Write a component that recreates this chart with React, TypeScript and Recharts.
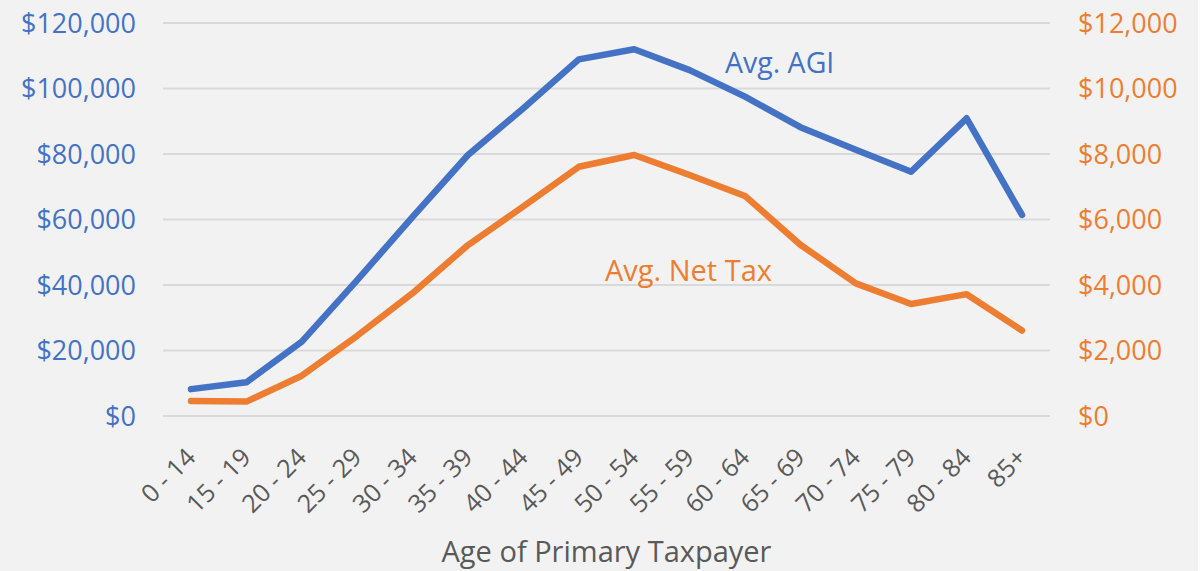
import { LineChart, Line, XAxis, YAxis, CartesianGrid } from 'recharts'

const ageGroups = ['0 - 14', '15 - 19', '20 - 24', '25 - 29', '30 - 34', '35 - 39', '40 - 44', '45 - 49', '50 - 54', '55 - 59', '60 - 64', '65 - 69', '70 - 74', '75 - 79', '80 - 84', '85+']
const avgAgi = [8200, 10300, 22700, 41500, 60800, 79700, 94000, 108900, 112000, 105600, 97500, 88200, 81300, 74600, 90900, 61400]
const avgNetTax = [460, 440, 1230, 2450, 3750, 5220, 6400, 7610, 7970, 7360, 6720, 5230, 4050, 3420, 3720, 2610]
const agiTicks = [0, 20000, 40000, 60000, 80000, 100000, 120000]
const taxTicks = [0, 2000, 4000, 6000, 8000, 10000, 12000]

const data = ageGroups.map((age, i) => ({ age, agi: avgAgi[i], tax: avgNetTax[i] }))

const BLUE = '#4472c4'
const ORANGE = '#ed7d31'
const GREY = '#595959'
const FONT = '"Open Sans", sans-serif'

const money = (v: number) => `$${v.toLocaleString('en-US')}`

function AgeTick({ x, y, payload }: any) {
    return (
        <g transform={`translate(${x + 6},${y + 43})`}>
            <text transform="rotate(-45)" textAnchor="end" fill={GREY} fontSize={25} fontFamily={FONT}>
                {payload.value}
            </text>
        </g>
    )
}

export default function App() {
    return (
        <div style={{ position: 'absolute', left: 0, top: 0, width: 1198, height: 571, background: '#f2f2f2' }}>
            <LineChart width={1198} height={571} data={data} margin={{ top: 23, right: 0, bottom: 0, left: 0 }}>
                <CartesianGrid yAxisId="agi" vertical={false} stroke="#d9d9d9" strokeWidth={2} />
                <XAxis
                    dataKey="age"
                    interval={0}
                    height={155}
                    padding={{ left: 28, right: 28 }}
                    tickLine={false}
                    axisLine={false}
                    tickSize={0}
                    tickMargin={0}
                    tick={<AgeTick />}
                    label={{ value: 'Age of Primary Taxpayer', position: 'insideBottom', offset: 9, fill: GREY, fontSize: 29, fontFamily: FONT }}
                />
                <YAxis
                    yAxisId="agi"
                    orientation="left"
                    width={163}
                    domain={[0, 120000]}
                    ticks={agiTicks}
                    tickFormatter={money}
                    tickLine={false}
                    axisLine={false}
                    tickSize={0}
                    tickMargin={27}
                    tick={{ fill: BLUE, fontSize: 27, fontFamily: FONT }}
                />
                <YAxis
                    yAxisId="tax"
                    orientation="right"
                    width={148}
                    domain={[0, 12000]}
                    ticks={taxTicks}
                    tickFormatter={money}
                    tickLine={false}
                    axisLine={false}
                    tickSize={0}
                    tickMargin={28}
                    tick={{ fill: ORANGE, fontSize: 27, fontFamily: FONT, textAnchor: 'start' }}
                />
                <Line
                    yAxisId="agi"
                    dataKey="agi"
                    stroke={BLUE}
                    strokeWidth={6.5}
                    strokeLinecap="round"
                    strokeLinejoin="round"
                    dot={false}
                    activeDot={false}
                    isAnimationActive={false}
                />
                <Line
                    yAxisId="tax"
                    dataKey="tax"
                    stroke={ORANGE}
                    strokeWidth={6.5}
                    strokeLinecap="round"
                    strokeLinejoin="round"
                    dot={false}
                    activeDot={false}
                    isAnimationActive={false}
                />
            </LineChart>
            <svg width={1198} height={571} style={{ position: 'absolute', left: 0, top: 0, pointerEvents: 'none' }}>
                <text x={725} y={73} fill={BLUE} fontSize={28.5} fontFamily={FONT}>Avg. AGI</text>
                <text x={605} y={281} fill={ORANGE} fontSize={29} fontFamily={FONT}>Avg. Net Tax</text>
            </svg>
        </div>
    )
}
